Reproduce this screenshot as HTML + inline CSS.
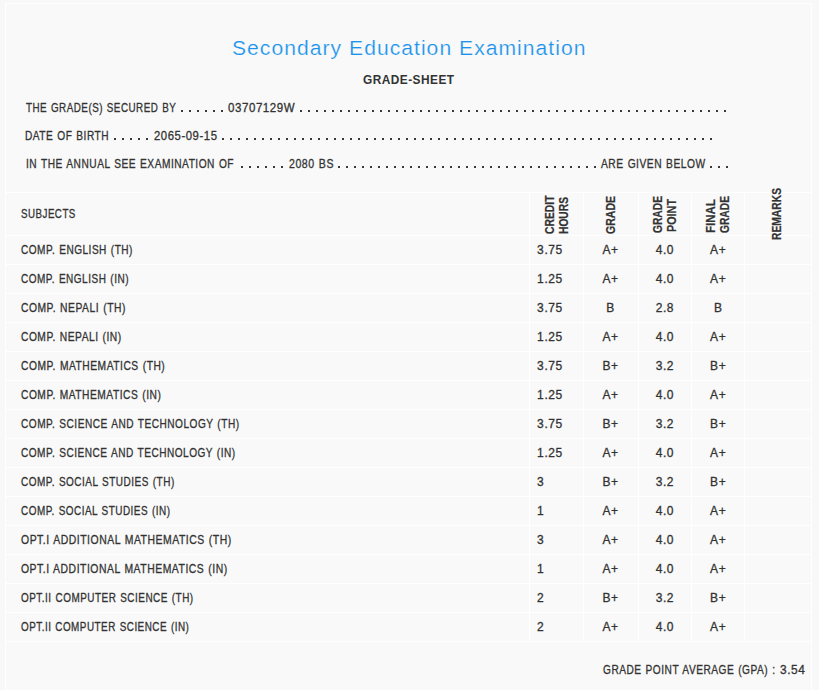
<!DOCTYPE html>
<html><head><meta charset="utf-8"><style>
html,body{margin:0;padding:0;background:#fff;width:831px;height:690px;overflow:hidden;}
#wrap{position:absolute;left:0;top:0;width:819px;height:690px;background:#f8f8f8;}
#box{position:absolute;left:5px;top:3px;width:805px;height:700px;border:1px solid #fff;border-bottom:none;background:#f9f9f9;}
.t{position:absolute;white-space:pre;font-family:"Liberation Sans", sans-serif;transform-origin:0 0;-webkit-text-stroke:0.3px currentColor;}
.nb{-webkit-text-stroke:0;}
.d{position:absolute;height:2px;background-image:linear-gradient(to right,#3a3a3a 2px,transparent 2px);background-repeat:repeat-x;}
.hl{position:absolute;left:5px;width:807px;height:1px;background:#fff;}
.vl{position:absolute;top:192px;height:449px;width:1px;background:#fff;}
.r{position:absolute;font-family:"Liberation Sans", sans-serif;font-weight:bold;font-size:12px;line-height:14px;color:#333333;white-space:pre;transform-origin:0 0;-webkit-text-stroke:0.2px currentColor;}
</style></head><body>
<div id="wrap"><div id="box"></div>
<div class="hl" style="top:192px"></div><div class="hl" style="top:235px"></div><div class="hl" style="top:264px"></div><div class="hl" style="top:293px"></div><div class="hl" style="top:322px"></div><div class="hl" style="top:351px"></div><div class="hl" style="top:380px"></div><div class="hl" style="top:409px"></div><div class="hl" style="top:438px"></div><div class="hl" style="top:467px"></div><div class="hl" style="top:496px"></div><div class="hl" style="top:525px"></div><div class="hl" style="top:554px"></div><div class="hl" style="top:583px"></div><div class="hl" style="top:612px"></div><div class="hl" style="top:641px"></div><div class="vl" style="left:529px"></div><div class="vl" style="left:583px"></div><div class="vl" style="left:638px"></div><div class="vl" style="left:691px"></div><div class="vl" style="left:744px"></div>
<span class="t" style="left:231.56px;top:38.15px;font-size:20.5px;line-height:20.5px;color:#1a93ec;letter-spacing:1.0px;-webkit-text-stroke:0.2px #f9f9f9;transform:scaleX(1.0293);">Secondary Education Examination</span><span class="t" style="left:362.92px;top:72.70px;font-size:13px;line-height:13px;color:#333333;letter-spacing:0.5px;font-weight:bold;-webkit-text-stroke:0;transform:scaleX(0.9138);">GRADE-SHEET</span><span class="t" style="left:25.61px;top:101.84px;font-size:12px;line-height:12px;color:#333333;word-spacing:0.8px;letter-spacing:0.6px;transform:scaleX(0.8185);">THE GRADE(S) SECURED BY</span><span class="t" style="left:228.14px;top:101.84px;font-size:12px;line-height:12px;color:#333333;word-spacing:0.8px;letter-spacing:0.6px;transform:scaleX(0.9588);">03707129W</span><span class="t" style="left:25.40px;top:129.84px;font-size:12px;line-height:12px;color:#333333;word-spacing:0.8px;letter-spacing:0.6px;transform:scaleX(0.8437);">DATE OF BIRTH</span><span class="t" style="left:153.75px;top:129.84px;font-size:12px;line-height:12px;color:#333333;word-spacing:0.8px;letter-spacing:0.6px;transform:scaleX(0.9426);">2065-09-15</span><span class="t" style="left:25.59px;top:157.84px;font-size:12px;line-height:12px;color:#333333;word-spacing:0.8px;letter-spacing:0.6px;transform:scaleX(0.8469);">IN THE ANNUAL SEE EXAMINATION OF</span><span class="t" style="left:288.58px;top:157.84px;font-size:12px;line-height:12px;color:#333333;word-spacing:0.8px;letter-spacing:0.6px;transform:scaleX(0.8813);">2080 BS</span><span class="t" style="left:601.19px;top:157.84px;font-size:12px;line-height:12px;color:#333333;word-spacing:0.8px;letter-spacing:0.6px;transform:scaleX(0.8535);">ARE GIVEN BELOW</span><span class="t" style="left:21.11px;top:207.84px;font-size:12px;line-height:12px;color:#333333;word-spacing:0.8px;letter-spacing:0.6px;transform:scaleX(0.8127);">SUBJECTS</span><span class="t" style="left:21.10px;top:243.84px;font-size:12px;line-height:12px;color:#333333;word-spacing:0.8px;letter-spacing:0.6px;transform:scaleX(0.8385);">COMP. ENGLISH (TH)</span><span class="t" style="left:537.12px;top:243.84px;font-size:12px;line-height:12px;color:#333333;word-spacing:0.8px;letter-spacing:0.6px;">3.75</span><span class="t" style="left:602.39px;top:243.84px;font-size:12px;line-height:12px;color:#333333;word-spacing:0.8px;letter-spacing:0.6px;">A+</span><span class="t" style="left:655.66px;top:243.84px;font-size:12px;line-height:12px;color:#333333;word-spacing:0.8px;letter-spacing:0.6px;">4.0</span><span class="t" style="left:710.09px;top:243.84px;font-size:12px;line-height:12px;color:#333333;word-spacing:0.8px;letter-spacing:0.6px;">A+</span><span class="t" style="left:21.10px;top:272.84px;font-size:12px;line-height:12px;color:#333333;word-spacing:0.8px;letter-spacing:0.6px;transform:scaleX(0.8335);">COMP. ENGLISH (IN)</span><span class="t" style="left:537.12px;top:272.84px;font-size:12px;line-height:12px;color:#333333;word-spacing:0.8px;letter-spacing:0.6px;">1.25</span><span class="t" style="left:602.39px;top:272.84px;font-size:12px;line-height:12px;color:#333333;word-spacing:0.8px;letter-spacing:0.6px;">A+</span><span class="t" style="left:655.66px;top:272.84px;font-size:12px;line-height:12px;color:#333333;word-spacing:0.8px;letter-spacing:0.6px;">4.0</span><span class="t" style="left:710.09px;top:272.84px;font-size:12px;line-height:12px;color:#333333;word-spacing:0.8px;letter-spacing:0.6px;">A+</span><span class="t" style="left:21.09px;top:301.84px;font-size:12px;line-height:12px;color:#333333;word-spacing:0.8px;letter-spacing:0.6px;transform:scaleX(0.8593);">COMP. NEPALI (TH)</span><span class="t" style="left:537.12px;top:301.84px;font-size:12px;line-height:12px;color:#333333;word-spacing:0.8px;letter-spacing:0.6px;">3.75</span><span class="t" style="left:606.20px;top:301.84px;font-size:12px;line-height:12px;color:#333333;word-spacing:0.8px;letter-spacing:0.6px;">B</span><span class="t" style="left:655.66px;top:301.84px;font-size:12px;line-height:12px;color:#333333;word-spacing:0.8px;letter-spacing:0.6px;">2.8</span><span class="t" style="left:713.90px;top:301.84px;font-size:12px;line-height:12px;color:#333333;word-spacing:0.8px;letter-spacing:0.6px;">B</span><span class="t" style="left:21.09px;top:330.84px;font-size:12px;line-height:12px;color:#333333;word-spacing:0.8px;letter-spacing:0.6px;transform:scaleX(0.8528);">COMP. NEPALI (IN)</span><span class="t" style="left:537.12px;top:330.84px;font-size:12px;line-height:12px;color:#333333;word-spacing:0.8px;letter-spacing:0.6px;">1.25</span><span class="t" style="left:602.39px;top:330.84px;font-size:12px;line-height:12px;color:#333333;word-spacing:0.8px;letter-spacing:0.6px;">A+</span><span class="t" style="left:655.66px;top:330.84px;font-size:12px;line-height:12px;color:#333333;word-spacing:0.8px;letter-spacing:0.6px;">4.0</span><span class="t" style="left:710.09px;top:330.84px;font-size:12px;line-height:12px;color:#333333;word-spacing:0.8px;letter-spacing:0.6px;">A+</span><span class="t" style="left:21.09px;top:359.84px;font-size:12px;line-height:12px;color:#333333;word-spacing:0.8px;letter-spacing:0.6px;transform:scaleX(0.8547);">COMP. MATHEMATICS (TH)</span><span class="t" style="left:537.12px;top:359.84px;font-size:12px;line-height:12px;color:#333333;word-spacing:0.8px;letter-spacing:0.6px;">3.75</span><span class="t" style="left:602.39px;top:359.84px;font-size:12px;line-height:12px;color:#333333;word-spacing:0.8px;letter-spacing:0.6px;">B+</span><span class="t" style="left:655.66px;top:359.84px;font-size:12px;line-height:12px;color:#333333;word-spacing:0.8px;letter-spacing:0.6px;">3.2</span><span class="t" style="left:710.09px;top:359.84px;font-size:12px;line-height:12px;color:#333333;word-spacing:0.8px;letter-spacing:0.6px;">B+</span><span class="t" style="left:21.09px;top:388.84px;font-size:12px;line-height:12px;color:#333333;word-spacing:0.8px;letter-spacing:0.6px;transform:scaleX(0.8517);">COMP. MATHEMATICS (IN)</span><span class="t" style="left:537.12px;top:388.84px;font-size:12px;line-height:12px;color:#333333;word-spacing:0.8px;letter-spacing:0.6px;">1.25</span><span class="t" style="left:602.39px;top:388.84px;font-size:12px;line-height:12px;color:#333333;word-spacing:0.8px;letter-spacing:0.6px;">A+</span><span class="t" style="left:655.66px;top:388.84px;font-size:12px;line-height:12px;color:#333333;word-spacing:0.8px;letter-spacing:0.6px;">4.0</span><span class="t" style="left:710.09px;top:388.84px;font-size:12px;line-height:12px;color:#333333;word-spacing:0.8px;letter-spacing:0.6px;">A+</span><span class="t" style="left:21.10px;top:417.84px;font-size:12px;line-height:12px;color:#333333;word-spacing:0.8px;letter-spacing:0.6px;transform:scaleX(0.8415);">COMP. SCIENCE AND TECHNOLOGY (TH)</span><span class="t" style="left:537.12px;top:417.84px;font-size:12px;line-height:12px;color:#333333;word-spacing:0.8px;letter-spacing:0.6px;">3.75</span><span class="t" style="left:602.39px;top:417.84px;font-size:12px;line-height:12px;color:#333333;word-spacing:0.8px;letter-spacing:0.6px;">B+</span><span class="t" style="left:655.66px;top:417.84px;font-size:12px;line-height:12px;color:#333333;word-spacing:0.8px;letter-spacing:0.6px;">3.2</span><span class="t" style="left:710.09px;top:417.84px;font-size:12px;line-height:12px;color:#333333;word-spacing:0.8px;letter-spacing:0.6px;">B+</span><span class="t" style="left:21.10px;top:446.84px;font-size:12px;line-height:12px;color:#333333;word-spacing:0.8px;letter-spacing:0.6px;transform:scaleX(0.8395);">COMP. SCIENCE AND TECHNOLOGY (IN)</span><span class="t" style="left:537.12px;top:446.84px;font-size:12px;line-height:12px;color:#333333;word-spacing:0.8px;letter-spacing:0.6px;">1.25</span><span class="t" style="left:602.39px;top:446.84px;font-size:12px;line-height:12px;color:#333333;word-spacing:0.8px;letter-spacing:0.6px;">A+</span><span class="t" style="left:655.66px;top:446.84px;font-size:12px;line-height:12px;color:#333333;word-spacing:0.8px;letter-spacing:0.6px;">4.0</span><span class="t" style="left:710.09px;top:446.84px;font-size:12px;line-height:12px;color:#333333;word-spacing:0.8px;letter-spacing:0.6px;">A+</span><span class="t" style="left:21.10px;top:475.84px;font-size:12px;line-height:12px;color:#333333;word-spacing:0.8px;letter-spacing:0.6px;transform:scaleX(0.8322);">COMP. SOCIAL STUDIES (TH)</span><span class="t" style="left:537.12px;top:475.84px;font-size:12px;line-height:12px;color:#333333;word-spacing:0.8px;letter-spacing:0.6px;">3</span><span class="t" style="left:602.39px;top:475.84px;font-size:12px;line-height:12px;color:#333333;word-spacing:0.8px;letter-spacing:0.6px;">B+</span><span class="t" style="left:655.66px;top:475.84px;font-size:12px;line-height:12px;color:#333333;word-spacing:0.8px;letter-spacing:0.6px;">3.2</span><span class="t" style="left:710.09px;top:475.84px;font-size:12px;line-height:12px;color:#333333;word-spacing:0.8px;letter-spacing:0.6px;">B+</span><span class="t" style="left:21.10px;top:504.84px;font-size:12px;line-height:12px;color:#333333;word-spacing:0.8px;letter-spacing:0.6px;transform:scaleX(0.8273);">COMP. SOCIAL STUDIES (IN)</span><span class="t" style="left:537.12px;top:504.84px;font-size:12px;line-height:12px;color:#333333;word-spacing:0.8px;letter-spacing:0.6px;">1</span><span class="t" style="left:602.39px;top:504.84px;font-size:12px;line-height:12px;color:#333333;word-spacing:0.8px;letter-spacing:0.6px;">A+</span><span class="t" style="left:655.66px;top:504.84px;font-size:12px;line-height:12px;color:#333333;word-spacing:0.8px;letter-spacing:0.6px;">4.0</span><span class="t" style="left:710.09px;top:504.84px;font-size:12px;line-height:12px;color:#333333;word-spacing:0.8px;letter-spacing:0.6px;">A+</span><span class="t" style="left:21.08px;top:533.84px;font-size:12px;line-height:12px;color:#333333;word-spacing:0.8px;letter-spacing:0.6px;transform:scaleX(0.8686);">OPT.I ADDITIONAL MATHEMATICS (TH)</span><span class="t" style="left:537.12px;top:533.84px;font-size:12px;line-height:12px;color:#333333;word-spacing:0.8px;letter-spacing:0.6px;">3</span><span class="t" style="left:602.39px;top:533.84px;font-size:12px;line-height:12px;color:#333333;word-spacing:0.8px;letter-spacing:0.6px;">A+</span><span class="t" style="left:655.66px;top:533.84px;font-size:12px;line-height:12px;color:#333333;word-spacing:0.8px;letter-spacing:0.6px;">4.0</span><span class="t" style="left:710.09px;top:533.84px;font-size:12px;line-height:12px;color:#333333;word-spacing:0.8px;letter-spacing:0.6px;">A+</span><span class="t" style="left:21.08px;top:562.84px;font-size:12px;line-height:12px;color:#333333;word-spacing:0.8px;letter-spacing:0.6px;transform:scaleX(0.8664);">OPT.I ADDITIONAL MATHEMATICS (IN)</span><span class="t" style="left:537.12px;top:562.84px;font-size:12px;line-height:12px;color:#333333;word-spacing:0.8px;letter-spacing:0.6px;">1</span><span class="t" style="left:602.39px;top:562.84px;font-size:12px;line-height:12px;color:#333333;word-spacing:0.8px;letter-spacing:0.6px;">A+</span><span class="t" style="left:655.66px;top:562.84px;font-size:12px;line-height:12px;color:#333333;word-spacing:0.8px;letter-spacing:0.6px;">4.0</span><span class="t" style="left:710.09px;top:562.84px;font-size:12px;line-height:12px;color:#333333;word-spacing:0.8px;letter-spacing:0.6px;">A+</span><span class="t" style="left:21.10px;top:591.84px;font-size:12px;line-height:12px;color:#333333;word-spacing:0.8px;letter-spacing:0.6px;transform:scaleX(0.8279);">OPT.II COMPUTER SCIENCE (TH)</span><span class="t" style="left:537.12px;top:591.84px;font-size:12px;line-height:12px;color:#333333;word-spacing:0.8px;letter-spacing:0.6px;">2</span><span class="t" style="left:602.39px;top:591.84px;font-size:12px;line-height:12px;color:#333333;word-spacing:0.8px;letter-spacing:0.6px;">B+</span><span class="t" style="left:655.66px;top:591.84px;font-size:12px;line-height:12px;color:#333333;word-spacing:0.8px;letter-spacing:0.6px;">3.2</span><span class="t" style="left:710.09px;top:591.84px;font-size:12px;line-height:12px;color:#333333;word-spacing:0.8px;letter-spacing:0.6px;">B+</span><span class="t" style="left:21.10px;top:620.84px;font-size:12px;line-height:12px;color:#333333;word-spacing:0.8px;letter-spacing:0.6px;transform:scaleX(0.8231);">OPT.II COMPUTER SCIENCE (IN)</span><span class="t" style="left:537.12px;top:620.84px;font-size:12px;line-height:12px;color:#333333;word-spacing:0.8px;letter-spacing:0.6px;">2</span><span class="t" style="left:602.39px;top:620.84px;font-size:12px;line-height:12px;color:#333333;word-spacing:0.8px;letter-spacing:0.6px;">A+</span><span class="t" style="left:655.66px;top:620.84px;font-size:12px;line-height:12px;color:#333333;word-spacing:0.8px;letter-spacing:0.6px;">4.0</span><span class="t" style="left:710.09px;top:620.84px;font-size:12px;line-height:12px;color:#333333;word-spacing:0.8px;letter-spacing:0.6px;">A+</span><span class="t" style="left:602.59px;top:664.34px;font-size:12px;line-height:12px;color:#333333;word-spacing:0.8px;letter-spacing:0.6px;transform:scaleX(0.8450);">GRADE POINT AVERAGE (GPA) :</span><span class="t" style="left:779.82px;top:664.34px;font-size:12px;line-height:12px;color:#333333;word-spacing:0.8px;letter-spacing:0.6px;transform:scaleX(0.9918);">3.54</span><div class="d" style="left:180.8px;top:110.0px;width:42px;background-size:8px 2px;"></div><div class="d" style="left:299.6px;top:110.0px;width:426px;background-size:8px 2px;"></div><div class="d" style="left:113.8px;top:138.0px;width:34px;background-size:8px 2px;"></div><div class="d" style="left:221.6px;top:138.0px;width:490px;background-size:8px 2px;"></div><div class="d" style="left:240.9px;top:166.0px;width:42px;background-size:8px 2px;"></div><div class="d" style="left:337.8px;top:166.0px;width:258px;background-size:8px 2px;"></div><div class="d" style="left:710.0px;top:166.0px;width:18px;background-size:8px 2px;"></div>
<span class="r" style="left:544.09px;top:234.00px;line-height:12px;transform:rotate(-90deg) scaleX(0.8618);">CREDIT</span><span class="r" style="left:557.69px;top:233.50px;line-height:12px;transform:rotate(-90deg) scaleX(0.8536);">HOURS</span><span class="r" style="left:604.69px;top:233.50px;line-height:12px;transform:rotate(-90deg) scaleX(0.8767);">GRADE</span><span class="r" style="left:651.69px;top:232.70px;line-height:12px;transform:rotate(-90deg) scaleX(0.8536);">GRADE</span><span class="r" style="left:665.59px;top:231.70px;line-height:12px;transform:rotate(-90deg) scaleX(0.8999);">POINT</span><span class="r" style="left:704.99px;top:232.50px;line-height:12px;transform:rotate(-90deg) scaleX(0.9511);">FINAL</span><span class="r" style="left:719.09px;top:232.50px;line-height:12px;transform:rotate(-90deg) scaleX(0.8536);">GRADE</span><span class="r" style="left:771.39px;top:240.40px;line-height:12px;transform:rotate(-90deg) scaleX(0.8571);">REMARKS</span>
</div>
</body></html>
